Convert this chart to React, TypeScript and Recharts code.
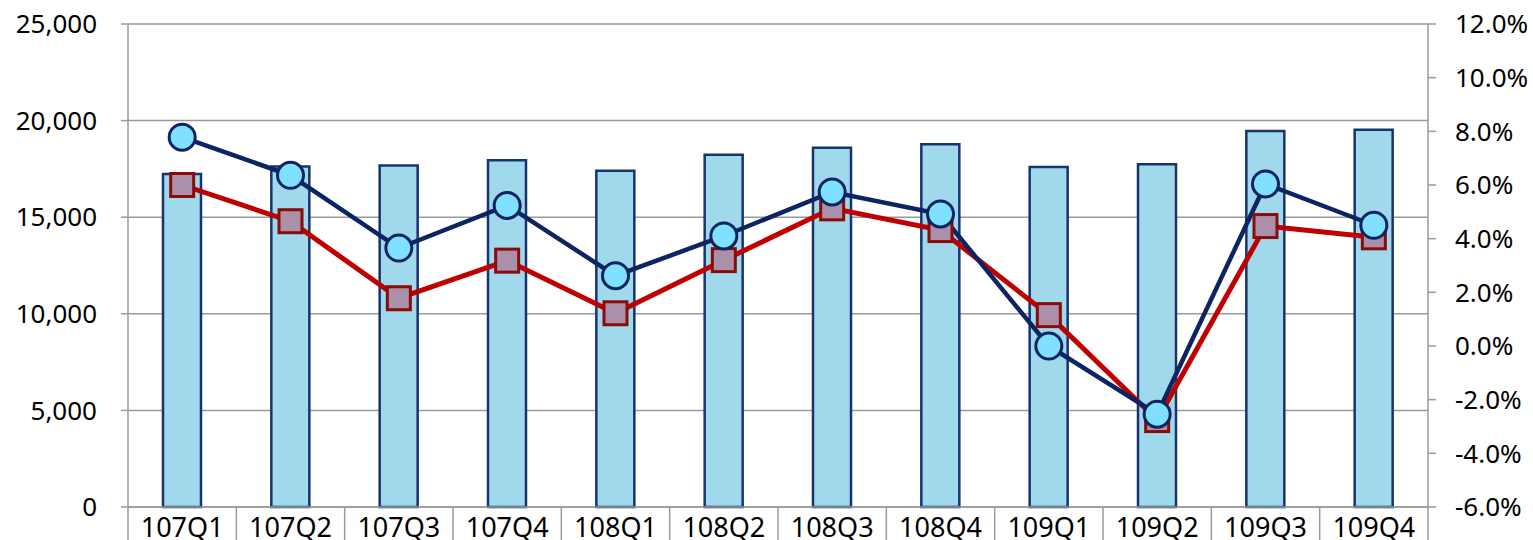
import React from 'react';
import { ComposedChart, Bar, Line, XAxis, YAxis, CartesianGrid } from 'recharts';

// quarterly figures
const quarters = ['107Q1', '107Q2', '107Q3', '107Q4', '108Q1', '108Q2', '108Q3', '108Q4', '109Q1', '109Q2', '109Q3', '109Q4'];
const revenue = [17240, 17620, 17680, 17950, 17410, 18230, 18600, 18770, 17600, 17740, 19460, 19530];
const growthNavy = [7.78, 6.36, 3.65, 5.24, 2.62, 4.1, 5.74, 4.92, 0.0, -2.54, 6.04, 4.5];
const growthRed = [6.0, 4.65, 1.78, 3.18, 1.22, 3.2, 5.13, 4.32, 1.15, -2.76, 4.47, 4.05];
const leftTicks = [0, 5000, 10000, 15000, 20000, 25000];
const rightTicks = [-6, -4, -2, 0, 2, 4, 6, 8, 10, 12];

const data = quarters.map((q, i) => ({
  q,
  revenue: revenue[i],
  navy: growthNavy[i],
  red: growthRed[i],
}));

const W = 1533;
const H = 540;
const LEFT_W = 128;
const RIGHT_W = 105;
const TOP = 24;
const X_H = 33;
const BAND = (W - LEFT_W - RIGHT_W) / quarters.length;
const GRID = '#9a9a9a';
const FONT = '"Noto Sans", sans-serif';

const CategoryTick = (props: any) => {
  const { x, index } = props;
  const axisY = H - X_H;
  return (
    <g>
      <line x1={x - BAND / 2} x2={x - BAND / 2} y1={axisY} y2={H} stroke={GRID} strokeWidth={1.5} />
      {index === quarters.length - 1 && (
        <line x1={x + BAND / 2} x2={x + BAND / 2} y1={axisY} y2={H} stroke={GRID} strokeWidth={1.5} />
      )}
      <text x={x} y={axisY + 30} textAnchor="middle" fill="#000" fontSize={27} fontFamily={FONT}>
        {props.payload.value}
      </text>
    </g>
  );
};

const SquareDot = (props: any) => {
  const { cx, cy, index } = props;
  if (cx == null || cy == null) return <g key={`s-${index}`} />;
  return (
    <rect key={`s-${index}`} x={cx - 11.5} y={cy - 11.5} width={23} height={23} fill="#aa90a8" stroke="#8b0a0a" strokeWidth={3} />
  );
};

export default function App() {
  return (
    <div style={{ position: 'absolute', left: 0, top: 0, width: W, height: H, background: '#fff' }}>
      <ComposedChart width={W} height={H} data={data} margin={{ top: TOP, right: 0, bottom: 0, left: 0 }}>
        <CartesianGrid yAxisId="left" vertical={false} stroke={GRID} strokeWidth={1.5} />
        <XAxis
          dataKey="q"
          height={X_H}
          axisLine={{ stroke: GRID, strokeWidth: 1.5 }}
          tickLine={false}
          tick={<CategoryTick />}
          interval={0}
        />
        <YAxis
          yAxisId="left"
          width={LEFT_W}
          domain={[0, 25000]}
          ticks={leftTicks}
          tickFormatter={(v: number) => v.toLocaleString('en-US')}
          axisLine={{ stroke: GRID, strokeWidth: 1.5 }}
          tickLine={{ stroke: GRID, strokeWidth: 1.5 }}
          tickSize={7}
          tickMargin={24}
          tick={{ fill: '#000', fontSize: 26, fontFamily: FONT }}
        />
        <YAxis
          yAxisId="right"
          orientation="right"
          width={RIGHT_W}
          domain={[-6, 12]}
          ticks={rightTicks}
          tickFormatter={(v: number) => `${v.toFixed(1)}%`}
          axisLine={{ stroke: GRID, strokeWidth: 1.5 }}
          tickLine={{ stroke: GRID, strokeWidth: 1.5 }}
          tickSize={8}
          tickMargin={19}
          tick={{ fill: '#000', fontSize: 26, fontFamily: FONT, textAnchor: 'start' }}
        />
        <Bar
          yAxisId="left"
          dataKey="revenue"
          barSize={38}
          fill="#a0d9ec"
          stroke="#17346f"
          strokeWidth={2.5}
          isAnimationActive={false}
        />
        <Line
          yAxisId="right"
          dataKey="red"
          stroke="#c00000"
          strokeWidth={5}
          dot={<SquareDot />}
          activeDot={false}
          isAnimationActive={false}
        />
        <Line
          yAxisId="right"
          dataKey="navy"
          stroke="#0c2461"
          strokeWidth={4.5}
          dot={{ r: 13, fill: '#80e0ff', stroke: '#0c2461', strokeWidth: 3 }}
          activeDot={false}
          isAnimationActive={false}
        />
      </ComposedChart>
    </div>
  );
}
